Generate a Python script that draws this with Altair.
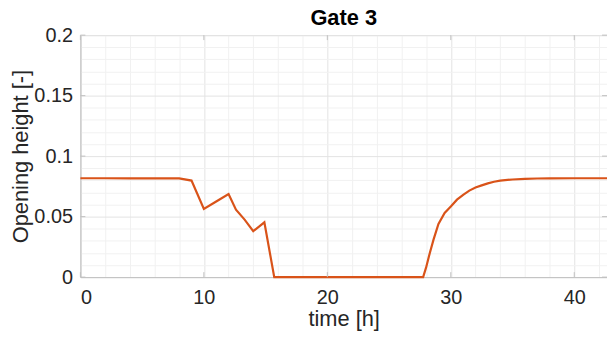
import altair as alt
import pandas as pd

# time [h] and opening height [-]
time_h = [0, 2, 4, 6, 8.0, 9.0, 10.0, 11.0, 12.0, 12.6, 13.3, 14.0, 14.9, 15.7,
          20, 25, 27.76, 28.0, 28.3, 28.6, 29.0, 29.5, 30.0, 30.5, 31.0, 31.5,
          32.0, 32.5, 33.0, 33.5, 34.0, 35.0, 36.0, 37.0, 38.0, 40.0, 42.7]
opening = [0.0817, 0.0817, 0.0816, 0.0816, 0.0816, 0.0798, 0.0563, 0.0625, 0.0686, 0.0557,
           0.0475, 0.038, 0.0453, 0.0,
           0.0, 0.0, 0.0, 0.008, 0.020, 0.031, 0.044, 0.053, 0.0584, 0.064, 0.068, 0.0715,
           0.074, 0.0758, 0.0775, 0.0788, 0.0797, 0.0807, 0.0812, 0.0815, 0.0816, 0.0817, 0.0817]

x_ticks = list(range(0, 44, 2))
y_ticks = [round(i * 0.01, 2) for i in range(21)]
x_major = [0, 10, 20, 30, 40]
y_major = [0, 0.05, 0.1, 0.15, 0.2]

df = pd.DataFrame({"t": time_h, "h": opening})
dfx = pd.DataFrame({"t": x_major})
dfy = pd.DataFrame({"h": y_major})

font = "Liberation Sans"
txt = "#262626"
axc = "#c0c0c0"

xs = alt.Scale(domain=[0, 42.65], nice=False, zero=False)
ys = alt.Scale(domain=[0, 0.2], nice=False)

x_axis = alt.Axis(
    values=x_ticks, labelExpr="datum.value % 10 === 0 ? datum.label : ''",
    grid=True,
    gridColor={"condition": {"test": "datum.value % 10 === 0", "value": "#e3e3e3"}, "value": "#f1f1f1"},
    tickSize=0, labelPadding=11, labelOverlap=False, labelFont=font, labelFontSize=20,
    labelColor=txt, titleFont=font, titleFontSize=22, titleFontWeight="normal",
    titleColor=txt, titlePadding=1, domainColor=axc, format="d",
)
y_axis = alt.Axis(
    values=y_ticks, format=".2~f",
    labelExpr="round(datum.value * 100) % 5 === 0 ? datum.label : ''",
    grid=True,
    gridColor={"condition": {"test": "round(datum.value * 100) % 5 === 0", "value": "#e3e3e3"}, "value": "#f1f1f1"},
    tickSize=0, labelPadding=8, labelOverlap=False, labelFont=font, labelFontSize=20,
    labelColor=txt, titleFont=font, titleFontSize=22, titleFontWeight="normal",
    titleColor=txt, titlePadding=1, domainColor=axc,
)

X = dict(title="time [h]", scale=xs, axis=x_axis)
Y = dict(title="Opening height [-]", scale=ys, axis=y_axis)

line = alt.Chart(df).mark_line(color="#d95319", strokeWidth=2.2).encode(
    x=alt.X("t:Q", **X),
    y=alt.Y("h:Q", **Y),
)

tick_b = alt.Chart(dfx).mark_rule(color=axc, strokeWidth=1).encode(
    x=alt.X("t:Q", **X), y=alt.value(244), y2=alt.value(239))
tick_t = alt.Chart(dfx).mark_rule(color=axc, strokeWidth=1).encode(
    x=alt.X("t:Q", **X), y=alt.value(0), y2=alt.value(5))
tick_l = alt.Chart(dfy).mark_rule(color=axc, strokeWidth=1).encode(
    y=alt.Y("h:Q", **Y), x=alt.value(0), x2=alt.value(5))
tick_r = alt.Chart(dfy).mark_rule(color=axc, strokeWidth=1).encode(
    y=alt.Y("h:Q", **Y), x=alt.value(531), x2=alt.value(526))

chart = alt.layer(line, tick_b, tick_t, tick_l, tick_r).properties(
    width=531, height=244,
    title=alt.TitleParams("Gate 3", font=font, fontSize=22, fontWeight="bold", color="#000000",
                          offset=0, baseline="alphabetic", dy=22),
    autosize=alt.AutoSizeParams(type="none"),
    padding={"left": 73, "top": 26, "right": 0, "bottom": 55},
).configure_view(stroke=axc, strokeWidth=1).configure(background="white")

chart.save("out.html", embed_options={"renderer": "svg", "actions": False})
